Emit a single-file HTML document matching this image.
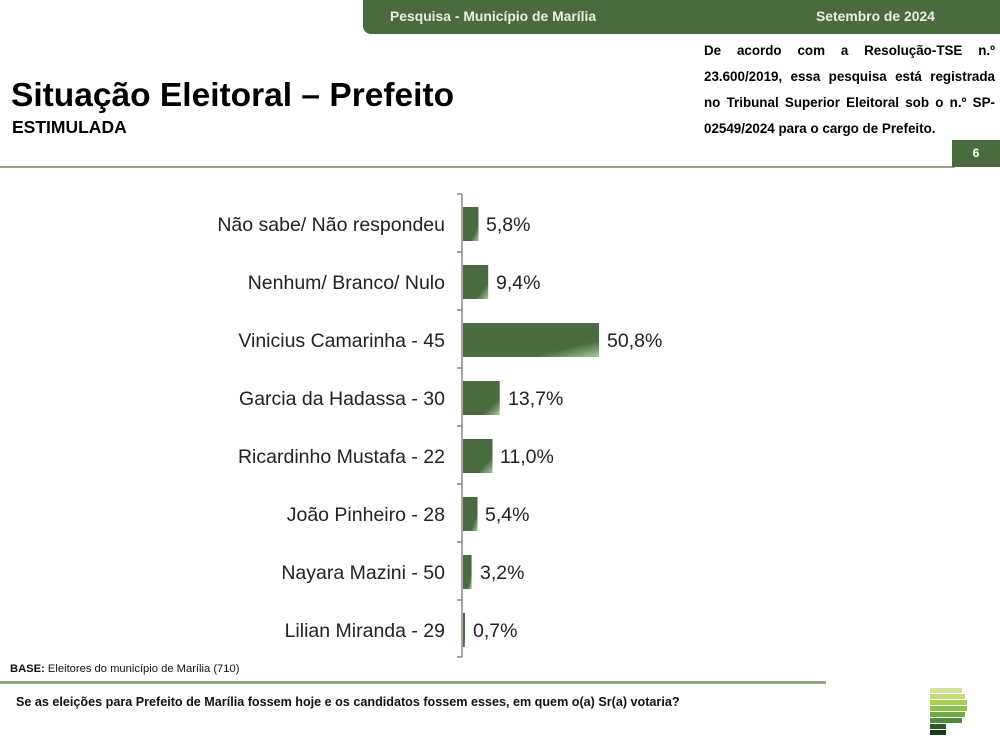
<!DOCTYPE html>
<html><head><meta charset="utf-8"><style>
body{margin:0;width:1000px;height:746px;background:#fff;position:relative;overflow:hidden;font-family:"Liberation Sans",sans-serif}
.a{position:absolute;white-space:nowrap}
</style></head><body>
<div class="a" style="left:363px;top:0;width:637px;height:34px;background:#4a6a40;border-bottom-left-radius:8px"></div>
<div class="a" style="left:390px;top:8px;font-size:13.9px;font-weight:bold;color:#e8eee4">Pesquisa - Município de Marília</div>
<div class="a" style="left:816px;top:8px;font-size:13.9px;font-weight:bold;color:#e8eee4">Setembro de 2024</div>
<div class="a" style="left:11px;top:77px;font-size:33.5px;font-weight:bold;color:#000">Situação Eleitoral – Prefeito</div>
<div class="a" style="left:12px;top:117px;font-size:17.5px;font-weight:bold;color:#000">ESTIMULADA</div>
<div class="a" style="left:704px;top:38px;width:291px;font-size:13.4px;font-weight:bold;color:#000;line-height:26px;text-align:justify;text-align-last:left;white-space:normal">De acordo com a Resolução-TSE n.º 23.600/2019, essa pesquisa está registrada no Tribunal Superior Eleitoral sob o n.º SP-02549/2024 para o cargo de Prefeito.</div>
<div class="a" style="left:0;top:166px;width:955px;height:2px;background:#8fa87a"></div>
<div class="a" style="left:952px;top:140px;width:48px;height:27px;background:#4a6a40;color:#fff;font-size:12px;font-weight:bold;text-align:center;line-height:27px">6</div>
<svg class="a" style="left:0;top:0" width="1000" height="746" font-family="Liberation Sans, sans-serif" font-size="19.5">
<defs><linearGradient id="g" x1="0" y1="0" x2="1" y2="1"><stop offset="0.75" stop-color="#4a6a40"/><stop offset="1" stop-color="#a9c99a"/></linearGradient></defs>
<g stroke="#888" stroke-width="1.5" fill="none">
<line x1="462" y1="194" x2="462" y2="657"/>
<line x1="457" y1="194" x2="462" y2="194"/><line x1="457" y1="252" x2="462" y2="252"/><line x1="457" y1="310" x2="462" y2="310"/><line x1="457" y1="368" x2="462" y2="368"/><line x1="457" y1="426" x2="462" y2="426"/><line x1="457" y1="484" x2="462" y2="484"/><line x1="457" y1="542" x2="462" y2="542"/><line x1="457" y1="600" x2="462" y2="600"/><line x1="457" y1="657" x2="462" y2="657"/>
</g>
<g fill="url(#g)">
<rect x="463" y="207" width="15.5" height="34"/>
<rect x="463" y="265" width="25.2" height="34"/>
<rect x="463" y="323" width="136" height="34"/>
<rect x="463" y="381" width="36.7" height="34"/>
<rect x="463" y="439" width="29.5" height="34"/>
<rect x="463" y="497" width="14.5" height="34"/>
<rect x="463" y="555" width="8.6" height="34"/>
<rect x="463" y="613" width="2" height="34"/>
</g>
<g fill="#222" text-anchor="end">
<text x="445" y="231">Não sabe/ Não respondeu</text>
<text x="445" y="289">Nenhum/ Branco/ Nulo</text>
<text x="445" y="347">Vinicius Camarinha - 45</text>
<text x="445" y="405">Garcia da Hadassa - 30</text>
<text x="445" y="463">Ricardinho Mustafa - 22</text>
<text x="445" y="521">João Pinheiro - 28</text>
<text x="445" y="579">Nayara Mazini - 50</text>
<text x="445" y="637">Lilian Miranda - 29</text>
</g>
<g fill="#222">
<text x="486" y="231">5,8%</text>
<text x="496" y="289">9,4%</text>
<text x="607" y="347">50,8%</text>
<text x="508" y="405">13,7%</text>
<text x="500" y="463">11,0%</text>
<text x="485" y="521">5,4%</text>
<text x="480" y="579">3,2%</text>
<text x="473" y="637">0,7%</text>
</g>
<g>
<rect x="930" y="688" width="32" height="5" fill="#d3e39c"/>
<rect x="930" y="694" width="35" height="5" fill="#c3db7a"/>
<rect x="930" y="700" width="37" height="5" fill="#a9cf52"/>
<rect x="930" y="706" width="37" height="5" fill="#8cc24a"/>
<rect x="930" y="712" width="35" height="5" fill="#6cab44"/>
<rect x="930" y="718" width="32" height="5" fill="#4e8a3a"/>
<rect x="930" y="724" width="16" height="5" fill="#2f5a28"/>
<rect x="930" y="730" width="16" height="5" fill="#1c3a18"/>
</g>
</svg>
<div class="a" style="left:10px;top:663px;font-size:11.2px;color:#111"><b>BASE:</b> Eleitores do município de Marília (710)</div>
<div class="a" style="left:0;top:681px;width:826px;height:3px;background:#8fa87a"></div>
<div class="a" style="left:16px;top:695px;font-size:12.6px;font-weight:bold;color:#111">Se as eleições para Prefeito de Marília fossem hoje e os candidatos fossem esses, em quem o(a) Sr(a) votaria?</div>
</body></html>
